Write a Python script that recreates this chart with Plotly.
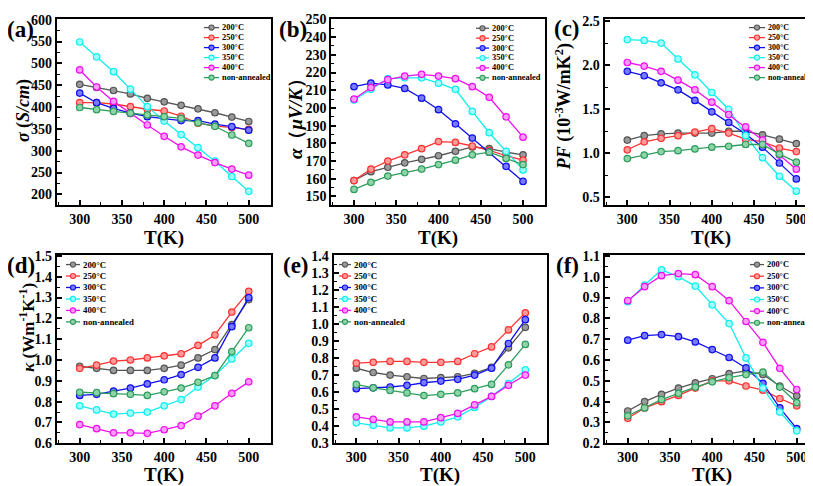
import plotly.graph_objects as go

W, H = 813, 486
FONT = "Liberation Serif, Times New Roman, serif"

T = [300, 320, 340, 360, 380, 400, 420, 440, 460, 480, 500]
series_names = ["200°C", "250°C", "300°C", "350°C", "400°C", "non-annealed"]
line_colors = ["#555555", "#ff3333", "#1010ee", "#10eeee", "#ee10ee", "#2e9e5e"]
fill_colors = ["#9a9a9a", "#ff9a9a", "#7a7aff", "#a0ffff", "#ff9aff", "#8fd4a8"]

# (a) electrical conductivity sigma (S/cm)
sigma_200 = [452, 445, 438, 430, 420, 412, 404, 396, 387, 377, 367]
sigma_250 = [410, 410, 407, 401, 395, 391, 379, 363, 357, 353, 349]
sigma_300 = [432, 410, 397, 386, 378, 373, 369, 369, 361, 355, 347]
sigma_350 = [549, 515, 481, 441, 401, 368, 337, 307, 276, 241, 207]
sigma_400 = [485, 446, 413, 385, 359, 333, 309, 290, 273, 258, 244]
sigma_non = [399, 394, 390, 386, 382, 378, 374, 364, 356, 336, 317]

# (b) Seebeck coefficient alpha (uV/K)
alpha_200 = [159, 164, 166.5, 169, 171, 173, 175.5, 178, 177, 175, 173.5]
alpha_250 = [159, 165.5, 170, 173.5, 177, 181, 180.5, 178.5, 176, 173, 170.5]
alpha_300 = [212, 214, 213, 211, 205.5, 199, 191, 183, 175, 167, 158.5]
alpha_350 = [204.5, 210.5, 216.5, 217, 217, 214, 210.5, 198, 186, 175.5, 165]
alpha_400 = [205, 211.5, 216, 218, 219, 218, 216.5, 212, 206, 195, 183.5]
alpha_non = [154, 158, 161.5, 163.5, 165.5, 168, 170.5, 173.5, 175, 171.5, 168]

# (c) power factor PF (1e-3 W/mK^2)
pf_200 = [1.15, 1.20, 1.22, 1.23, 1.23, 1.23, 1.25, 1.25, 1.21, 1.16, 1.11]
pf_250 = [1.04, 1.13, 1.17, 1.20, 1.24, 1.28, 1.23, 1.16, 1.13, 1.06, 1.02]
pf_300 = [1.93, 1.88, 1.80, 1.72, 1.60, 1.47, 1.35, 1.22, 1.07, 0.89, 0.71]
pf_350 = [2.29, 2.28, 2.25, 2.07, 1.89, 1.69, 1.50, 1.20, 0.95, 0.74, 0.57]
pf_400 = [2.03, 1.99, 1.93, 1.83, 1.72, 1.58, 1.44, 1.30, 1.15, 0.98, 0.82]
pf_non = [0.94, 0.98, 1.02, 1.03, 1.05, 1.07, 1.08, 1.10, 1.10, 0.99, 0.90]

# (d) thermal conductivity kappa (W/mK)
kappa_200 = [0.97, 0.96, 0.95, 0.95, 0.95, 0.96, 0.975, 1.01, 1.05, 1.17, 1.29]
kappa_250 = [0.96, 0.975, 0.995, 1.0, 1.01, 1.02, 1.03, 1.07, 1.12, 1.23, 1.33]
kappa_300 = [0.83, 0.835, 0.85, 0.865, 0.885, 0.905, 0.93, 0.965, 1.01, 1.16, 1.30]
kappa_350 = [0.78, 0.76, 0.74, 0.745, 0.75, 0.78, 0.81, 0.87, 0.925, 1.005, 1.08]
kappa_400 = [0.69, 0.67, 0.65, 0.65, 0.648, 0.665, 0.685, 0.73, 0.78, 0.84, 0.895]
kappa_non = [0.845, 0.843, 0.838, 0.835, 0.83, 0.847, 0.865, 0.893, 0.925, 1.04, 1.155]

# (e)
e_200 = [0.74, 0.715, 0.70, 0.69, 0.68, 0.685, 0.69, 0.71, 0.745, 0.86, 0.98]
e_250 = [0.77, 0.775, 0.78, 0.78, 0.775, 0.775, 0.78, 0.825, 0.865, 0.965, 1.065]
e_300 = [0.62, 0.625, 0.63, 0.64, 0.655, 0.665, 0.675, 0.70, 0.74, 0.885, 1.025]
e_350 = [0.42, 0.405, 0.39, 0.39, 0.40, 0.425, 0.455, 0.51, 0.575, 0.65, 0.73]
e_400 = [0.455, 0.44, 0.425, 0.425, 0.425, 0.45, 0.475, 0.525, 0.575, 0.64, 0.70]
e_non = [0.645, 0.625, 0.61, 0.595, 0.58, 0.587, 0.595, 0.62, 0.645, 0.76, 0.88]

# (f)
f_200 = [0.355, 0.40, 0.435, 0.465, 0.49, 0.51, 0.535, 0.548, 0.53, 0.475, 0.428]
f_250 = [0.32, 0.37, 0.40, 0.43, 0.465, 0.50, 0.50, 0.475, 0.455, 0.415, 0.38]
f_300 = [0.695, 0.717, 0.722, 0.712, 0.687, 0.650, 0.612, 0.562, 0.488, 0.370, 0.27]
f_350 = [0.88, 0.96, 1.033, 1.0, 0.955, 0.865, 0.775, 0.61, 0.465, 0.35, 0.26]
f_400 = [0.885, 0.952, 1.005, 1.015, 1.01, 0.952, 0.885, 0.785, 0.685, 0.56, 0.458]
f_non = [0.332, 0.37, 0.41, 0.44, 0.47, 0.495, 0.515, 0.53, 0.542, 0.47, 0.395]

x_ticks = [300, 350, 400, 450, 500]

panels = [
    dict(label="(a)", data=[sigma_200, sigma_250, sigma_300, sigma_350, sigma_400, sigma_non],
         yr=[175, 602], dt=50, mdt=25, fmt="d",
         xpx=[48.9, 262.7], ypx=[5, 197],
         ytitle="<b><i>σ</i> (<i>S/cm</i>)</b>", ytpos=(15, 100), ytsize=18,
         lab=(12.5, 16), leg=dict(s0=196, s1=211, tx=212, y0=14, dy=10.3, fs=8.4)),
    dict(label="(b)", data=[alpha_200, alpha_250, alpha_300, alpha_350, alpha_400, alpha_non],
         yr=[145, 250.3], dt=10, mdt=5, fmt="d",
         xpx=[323.2, 537], ypx=[5, 197],
         ytitle="<b><i>α</i>（<i>μV/K</i>）</b>", ytpos=(287, 103), ytsize=19,
         lab=(284.5, 16), leg=dict(s0=468, s1=481, tx=482, y0=14.7, dy=10.2, fs=8.4)),
    dict(label="(c)", data=[pf_200, pf_250, pf_300, pf_350, pf_400, pf_non],
         yr=[0.41, 2.525], dt=0.5, mdt=0.25, fmt=".1f",
         xpx=[596.5, 810.3], ypx=[5, 197],
         ytitle="<b><i>PF</i> (10<sup>-3</sup>W/mK<sup>2</sup>)</b>", ytpos=(556, 96), ytsize=18,
         lab=(559, 15), leg=dict(s0=741, s1=757, tx=758, y0=14, dy=10.3, fs=8.0)),
    dict(label="(d)", data=[kappa_200, kappa_250, kappa_300, kappa_350, kappa_400, kappa_non],
         yr=[0.6, 1.505], dt=0.1, mdt=0.05, fmt=".1f",
         xpx=[48.9, 262.7], ypx=[248, 442],
         ytitle="<b><i>κ</i> (Wm<sup>-1</sup>K<sup>-1</sup>)</b>", ytpos=(19, 323), ytsize=17,
         lab=(12.5, 259), leg=dict(s0=58, s1=72, tx=72.5, y0=258, dy=11.8, fs=8.8)),
    dict(label="(e)", data=[e_200, e_250, e_300, e_350, e_400, e_non],
         yr=[0.3, 1.405], dt=0.1, mdt=0.05, fmt=".1f",
         xpx=[325.5, 539.3], ypx=[248, 442],
         ytitle=None, ytpos=None, ytsize=None,
         lab=(288, 259), leg=dict(s0=331, s1=343, tx=343.5, y0=258, dy=11.8, fs=8.8)),
    dict(label="(f)", data=[f_200, f_250, f_300, f_350, f_400, f_non],
         yr=[0.2, 1.105], dt=0.1, mdt=0.05, fmt=".1f",
         xpx=[596.9, 810.7], ypx=[248, 442],
         ytitle=None, ytpos=None, ytsize=None,
         lab=(559, 259), leg=dict(s0=742, s1=756, tx=756.5, y0=258, dy=12, fs=8.4)),
]

def px2x(px):
    return px / W

def px2y(py):
    return 1 - py / H

fig = go.Figure()
layout = dict(width=W, height=H, margin=dict(l=0, r=0, t=0, b=0),
              paper_bgcolor="white", plot_bgcolor="white", showlegend=False,
              font=dict(family=FONT, color="black"))
shapes = []
annotations = []

for i, p in enumerate(panels):
    k = "" if i == 0 else str(i + 1)
    for j, ys in enumerate(p["data"]):
        fig.add_trace(go.Scatter(
            x=T, y=ys, mode="lines+markers", name=series_names[j],
            xaxis="x" + k, yaxis="y" + k,
            line=dict(color=line_colors[j], width=1.3),
            marker=dict(symbol="circle", size=6.5, color=fill_colors[j],
                        line=dict(color=line_colors[j], width=1.2)),
        ))
    xdom = [px2x(p["xpx"][0]), px2x(p["xpx"][1])]
    ydom = [px2y(p["ypx"][1]), px2y(p["ypx"][0])]
    layout["xaxis" + k] = dict(
        domain=xdom, range=[273, 526], anchor="y" + k,
        tickmode="array", tickvals=x_ticks, ticktext=["<b>%d</b>" % v for v in x_ticks],
        ticks="inside", ticklen=5, tickwidth=1.5, tickcolor="black",
        minor=dict(ticks="inside", ticklen=3, tickwidth=1.2, dtick=25, tick0=300, tickcolor="black"),
        showline=True, linewidth=2, linecolor="black", mirror=True,
        showgrid=False, zeroline=False,
        tickfont=dict(family=FONT, size=14, color="black"),
    )
    layout["yaxis" + k] = dict(
        domain=ydom, range=p["yr"], anchor="x" + k,
        dtick=p["dt"], tick0=0, tickformat=p["fmt"], tickprefix="<b>", ticksuffix="</b>",
        ticks="inside", ticklen=5, tickwidth=1.5, tickcolor="black",
        minor=dict(ticks="inside", ticklen=3, tickwidth=1.2, dtick=p["mdt"], tick0=0, tickcolor="black"),
        showline=True, linewidth=2, linecolor="black", mirror=True,
        showgrid=False, zeroline=False,
        tickfont=dict(family=FONT, size=14, color="black"),
    )
    # x title
    xc = (p["xpx"][0] + p["xpx"][1]) / 2
    xty = 231 if p["ypx"][0] < 100 else 475
    annotations.append(dict(text="<b>T(K)</b>", x=px2x(xc), y=px2y(xty), xref="paper", yref="paper",
                            xanchor="center", yanchor="middle", showarrow=False,
                            font=dict(family=FONT, size=19, color="black")))
    # y title
    if p["ytitle"]:
        annotations.append(dict(text=p["ytitle"], x=px2x(p["ytpos"][0]), y=px2y(p["ytpos"][1]),
                                xref="paper", yref="paper", textangle=-90,
                                xanchor="center", yanchor="middle", showarrow=False,
                                font=dict(family=FONT, size=p["ytsize"], color="black")))
    # panel label
    annotations.append(dict(text="<b>" + p["label"] + "</b>", x=px2x(p["lab"][0]), y=px2y(p["lab"][1]),
                            xref="paper", yref="paper", xanchor="center", yanchor="middle",
                            showarrow=False, font=dict(family=FONT, size=23, color="black")))
    # legend (drawn with shapes + text)
    lg = p["leg"]
    for j, nm in enumerate(series_names):
        yy = lg["y0"] + j * lg["dy"]
        shapes.append(dict(type="line", xref="paper", yref="paper",
                           x0=px2x(lg["s0"]), x1=px2x(lg["s1"]), y0=px2y(yy), y1=px2y(yy),
                           line=dict(color=line_colors[j], width=1.3)))
        cx = (lg["s0"] + lg["s1"]) / 2
        r = 2.6
        shapes.append(dict(type="circle", xref="paper", yref="paper",
                           x0=px2x(cx - r), x1=px2x(cx + r), y0=px2y(yy + r), y1=px2y(yy - r),
                           fillcolor=fill_colors[j], line=dict(color=line_colors[j], width=1.1)))
        annotations.append(dict(text="<b>" + nm + "</b>", x=px2x(lg["tx"]), y=px2y(yy),
                                xref="paper", yref="paper", xanchor="left", yanchor="middle",
                                showarrow=False, font=dict(family=FONT, size=lg["fs"], color="black")))

layout["shapes"] = shapes
layout["annotations"] = annotations
fig.update_layout(**layout)
fig.write_html("out.html")
